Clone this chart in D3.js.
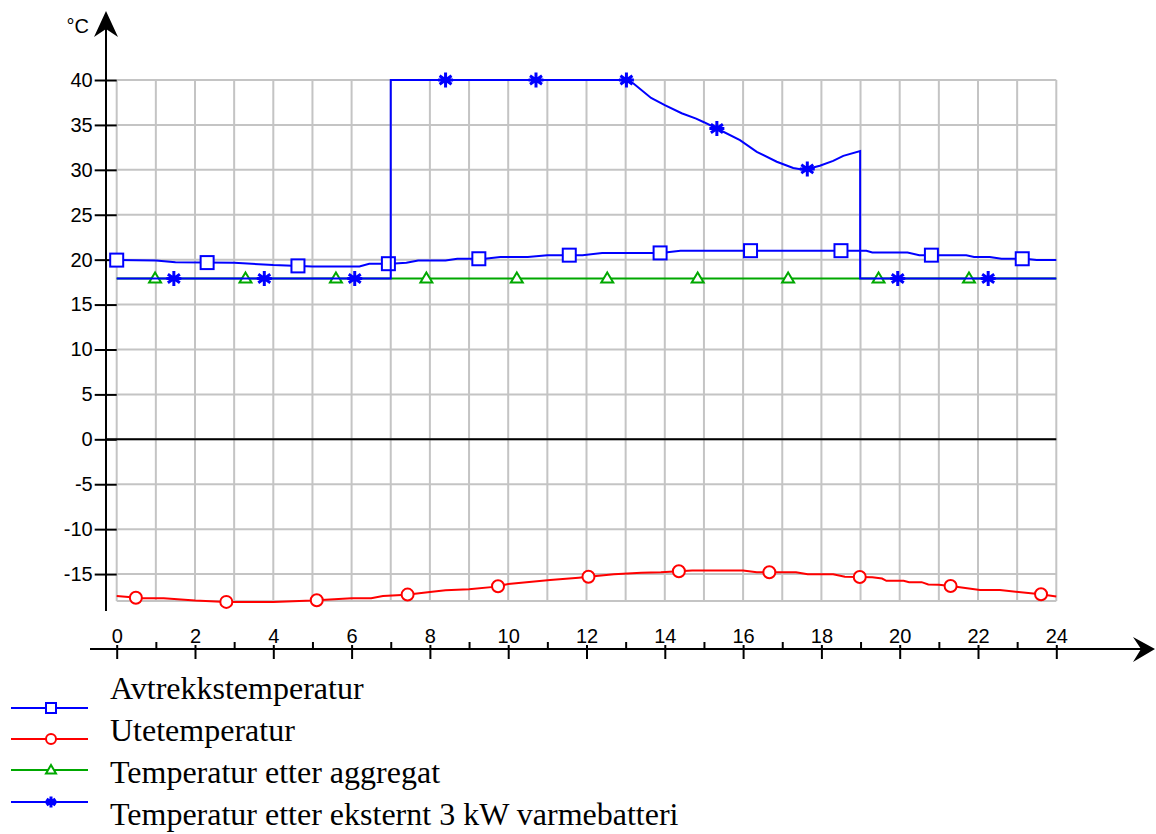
<!DOCTYPE html>
<html>
<head>
<meta charset="utf-8">
<script src="https://cdn.jsdelivr.net/npm/d3@7"></script>
<style>
  html, body { margin: 0; padding: 0; background: #fff; }
  svg { display: block; }
</style>
</head>
<body>
<svg id="chart" width="1156" height="834"></svg>
<script>
// Døgnforløp av temperaturer (timer 0–24)
const hourTicks = [0, 2, 4, 6, 8, 10, 12, 14, 16, 18, 20, 22, 24];
const hourMinorTicks = [1, 3, 5, 7, 9, 11, 13, 15, 17, 19, 21, 23];
const tempTicks = [-15, -10, -5, 0, 5, 10, 15, 20, 25, 30, 35, 40];

// Avtrekkstemperatur
const avtrekkHours  = [0, 1.0, 1.5, 3.0, 4.0, 5.0, 6.2, 6.45, 7.0, 7.4, 7.7, 8.4, 8.7, 9.4, 9.8, 10.5, 11.0, 11.9, 12.4, 13.9, 14.4, 19.15, 19.3, 20.2, 20.5, 21.7, 21.9, 22.3, 22.6, 23.2, 23.5, 24];
const avtrekkValues = [19.95, 19.9, 19.7, 19.65, 19.4, 19.25, 19.25, 19.55, 19.55, 19.65, 19.9, 19.9, 20.1, 20.1, 20.3, 20.3, 20.5, 20.5, 20.75, 20.75, 21.0, 21.0, 20.8, 20.8, 20.5, 20.5, 20.3, 20.3, 20.1, 20.1, 19.95, 19.95];
const avtrekkMarkers = [0, 2.31, 4.63, 6.94, 9.25, 11.56, 13.88, 16.19, 18.5, 20.81, 23.13];

// Utetemperatur
const uteHours  = [0, 0.3, 0.6, 1.2, 2.0, 2.8, 4.0, 5.0, 6.0, 6.5, 6.8, 7.4, 8.0, 8.4, 9.0, 9.7, 10.0, 11.07, 11.8, 12.05, 12.7, 13.4, 13.9, 14.7, 16.0, 16.35, 17.35, 17.65, 18.3, 18.6, 19.3, 19.55, 19.66, 20.1, 20.24, 20.56, 20.73, 21.0, 21.3, 22.05, 22.56, 23.6, 24];
const uteValues = [-17.45, -17.55, -17.7, -17.7, -17.95, -18.1, -18.1, -17.95, -17.7, -17.7, -17.45, -17.3, -17.0, -16.8, -16.7, -16.4, -16.1, -15.66, -15.4, -15.3, -15.03, -14.85, -14.8, -14.6, -14.6, -14.8, -14.8, -15.03, -15.03, -15.3, -15.35, -15.5, -15.75, -15.75, -15.9, -15.9, -16.15, -16.2, -16.33, -16.78, -16.78, -17.25, -17.5];
const uteMarkers = [0.49, 2.8, 5.11, 7.43, 9.74, 12.05, 14.36, 16.67, 18.98, 21.3, 23.61];

// Temperatur etter aggregat
const aggregatHours  = [0, 24];
const aggregatValues = [17.9, 17.9];
const aggregatMarkers = [0.98, 3.29, 5.6, 7.91, 10.22, 12.53, 14.84, 17.15, 19.46, 21.77];

// Temperatur etter eksternt 3 kW varmebatteri
const batteriHours  = [0, 7.0, 7.0, 13.05, 13.2, 13.65, 14.0, 14.43, 14.8, 15.0, 15.33, 15.92, 16.35, 16.86, 17.28, 17.5, 17.64, 17.96, 18.3, 18.56, 18.99, 18.99, 24];
const batteriValues = [17.9, 17.9, 40, 40, 39.6, 38.0, 37.2, 36.3, 35.7, 35.3, 34.6, 33.3, 32.0, 30.9, 30.2, 30.05, 30.1, 30.45, 31.0, 31.55, 32.1, 17.9, 17.9];
const batteriMarkers = [1.46, 3.77, 6.08, 8.4, 10.71, 13.02, 15.33, 17.64, 19.95, 22.26];

const legendLabels = [
  "Avtrekkstemperatur",
  "Utetemperatur",
  "Temperatur etter aggregat",
  "Temperatur etter eksternt 3 kW varmebatteri"
];

const BLUE = "#0000ff", RED = "#ff0000", GREEN = "#00a800";
const GRID = "#c4c4c4";

const series = [
  { name: legendLabels[1], hours: uteHours, values: uteValues, markers: uteMarkers, color: RED, shape: "circle" },
  { name: legendLabels[0], hours: avtrekkHours, values: avtrekkValues, markers: avtrekkMarkers, color: BLUE, shape: "square" },
  { name: legendLabels[2], hours: aggregatHours, values: aggregatValues, markers: aggregatMarkers, color: GREEN, shape: "triangle" },
  { name: legendLabels[3], hours: batteriHours, values: batteriValues, markers: batteriMarkers, color: BLUE, shape: "star" }
];

const svg = d3.select("#chart");
const x = d3.scaleLinear().domain([0, 24]).range([116.7, 1056.3]);
const y = d3.scaleLinear().domain([-18, 40]).range([601, 80]);

// Rutenett
const grid = svg.append("g");
grid.selectAll("line.v").data(d3.range(0, 25)).join("line")
  .attr("x1", d => x(d)).attr("x2", d => x(d))
  .attr("y1", y(40)).attr("y2", y(-18))
  .attr("stroke", GRID).attr("stroke-width", 2);
grid.selectAll("line.h").data(tempTicks.concat([-18])).join("line")
  .attr("x1", x(0)).attr("x2", x(24))
  .attr("y1", d => y(d)).attr("y2", d => y(d))
  .attr("stroke", GRID).attr("stroke-width", 2);

// Nullinje
svg.append("line")
  .attr("x1", 106).attr("x2", x(24))
  .attr("y1", y(0)).attr("y2", y(0))
  .attr("stroke", "#000").attr("stroke-width", 2);

// Y-akse
const yAxis = svg.append("g")
  .attr("transform", `translate(${x(0)},0)`)
  .call(d3.axisLeft(y).tickValues(tempTicks).tickSize(22).tickPadding(2).tickFormat(d3.format("d")));
yAxis.select(".domain").remove();
yAxis.selectAll(".tick line").attr("stroke", "#000").attr("stroke-width", 2);
yAxis.selectAll(".tick text")
  .attr("font-family", "Liberation Sans, Arial, sans-serif")
  .attr("font-size", 20).attr("fill", "#000")
  .text(d => d < 0 ? "-" + Math.abs(d) : d);
svg.append("line")
  .attr("x1", 106).attr("x2", 106).attr("y1", 25).attr("y2", 611)
  .attr("stroke", "#000").attr("stroke-width", 2);
svg.append("path")
  .attr("d", "M106,11 L94,37 L106,29 L118,37 Z")
  .attr("fill", "#000");
svg.append("text")
  .attr("x", 89).attr("y", 33).attr("text-anchor", "end")
  .attr("font-family", "Liberation Sans, Arial, sans-serif")
  .attr("font-size", 20).text("°C");

// X-akse
const AXIS_Y = 649;
svg.append("line")
  .attr("x1", 90).attr("x2", 1145).attr("y1", AXIS_Y).attr("y2", AXIS_Y)
  .attr("stroke", "#000").attr("stroke-width", 2);
svg.append("path")
  .attr("d", `M1155,${AXIS_Y} L1133,${AXIS_Y - 12} L1141,${AXIS_Y} L1133,${AXIS_Y + 13} Z`)
  .attr("fill", "#000");
const xMajor = svg.append("g")
  .attr("transform", `translate(0,${AXIS_Y - 4})`)
  .call(d3.axisBottom(x).tickValues(hourTicks).tickSize(14).tickFormat(d3.format("d")));
xMajor.select(".domain").remove();
xMajor.selectAll(".tick line").attr("stroke", "#000").attr("stroke-width", 2);
xMajor.selectAll(".tick text")
  .attr("y", -2).attr("dy", 0)
  .attr("font-family", "Liberation Sans, Arial, sans-serif")
  .attr("font-size", 20).attr("fill", "#000");
const xMinor = svg.append("g")
  .attr("transform", `translate(0,${AXIS_Y})`)
  .call(d3.axisTop(x).tickValues(hourMinorTicks).tickSize(7).tickFormat(""));
xMinor.select(".domain").remove();
xMinor.selectAll(".tick line").attr("stroke", "#000").attr("stroke-width", 2);

// Hjelpefunksjon: verdi på kurven ved en gitt time
function valueAt(s, t) {
  for (let i = 0; i < s.hours.length - 1; i++) {
    const h0 = s.hours[i], h1 = s.hours[i + 1];
    if (h1 > h0 && t >= h0 && t <= h1) {
      return s.values[i] + (s.values[i + 1] - s.values[i]) * (t - h0) / (h1 - h0);
    }
  }
  return s.values[s.values.length - 1];
}

function drawMarker(g, shape, color, cx, cy, size) {
  const r = size / 2;
  if (shape === "square") {
    g.append("rect").attr("x", cx - r).attr("y", cy - r).attr("width", size).attr("height", size)
      .attr("fill", "#fff").attr("stroke", color).attr("stroke-width", 2);
  } else if (shape === "circle") {
    g.append("circle").attr("cx", cx).attr("cy", cy).attr("r", r)
      .attr("fill", "#fff").attr("stroke", color).attr("stroke-width", 2);
  } else if (shape === "triangle") {
    const h = size * 0.85;
    g.append("path")
      .attr("d", `M${cx},${cy - h * 0.6} L${cx + r},${cy + h * 0.4} L${cx - r},${cy + h * 0.4} Z`)
      .attr("fill", "#fff").attr("stroke", color).attr("stroke-width", 2);
  } else if (shape === "star") {
    const d = r * 0.8;
    g.append("path")
      .attr("d", `M${cx},${cy - r} L${cx},${cy + r} M${cx - d},${cy - d * 0.7} L${cx + d},${cy + d * 0.7} M${cx - d},${cy + d * 0.7} L${cx + d},${cy - d * 0.7} M${cx - r},${cy} L${cx + r},${cy}`)
      .attr("stroke", color).attr("stroke-width", 3).attr("fill", "none");
  }
}

const line = d3.line().x(d => x(d[0])).y(d => y(d[1]));
const plot = svg.append("g");
series.forEach(s => {
  const pts = s.hours.map((h, i) => [h, s.values[i]]);
  plot.append("path").datum(pts)
    .attr("d", line)
    .attr("fill", "none").attr("stroke", s.color).attr("stroke-width", 2);
  const size = s.shape === "square" ? 13 : s.shape === "circle" ? 12 : s.shape === "triangle" ? 12 : 15;
  s.markers.forEach(t => drawMarker(plot, s.shape, s.color, x(t), y(valueAt(s, t)), size));
});

// Tegnforklaring
const legendOrder = [
  { label: legendLabels[0], color: BLUE, shape: "square" },
  { label: legendLabels[1], color: RED, shape: "circle" },
  { label: legendLabels[2], color: GREEN, shape: "triangle" },
  { label: legendLabels[3], color: BLUE, shape: "star" }
];
const legend = svg.append("g");
const lineYs = [708, 739, 770, 802];
const textYs = [699, 741, 783, 825];
legendOrder.forEach((item, i) => {
  legend.append("line")
    .attr("x1", 11).attr("x2", 88).attr("y1", lineYs[i]).attr("y2", lineYs[i])
    .attr("stroke", item.color).attr("stroke-width", 2);
  drawMarker(legend, item.shape, item.color, 51, lineYs[i], item.shape === "star" ? 11 : 10);
  legend.append("text")
    .attr("x", 110).attr("y", textYs[i])
    .attr("font-family", "Liberation Serif, Times New Roman, serif")
    .attr("font-size", 32).attr("fill", "#000")
    .text(item.label);
});
</script>
</body>
</html>
